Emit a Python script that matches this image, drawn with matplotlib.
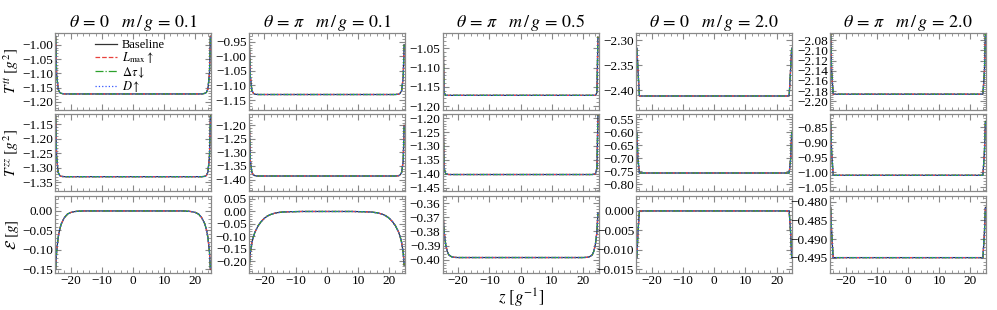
"""
Edge profiles of T^tt, T^zz and energy density for five (theta, m/g) settings.
Four runs (baseline + three refinements) overlap on every panel.
"""

import numpy as np
import matplotlib
matplotlib.use("Agg")
import matplotlib.pyplot as plt
from matplotlib.ticker import MultipleLocator, AutoMinorLocator, ScalarFormatter

plt.rcParams["font.family"] = ["Liberation Serif", "DejaVu Serif"]
plt.rcParams["mathtext.fontset"] = "stix"
plt.rcParams["axes.unicode_minus"] = True

# column titles
TITLES = [
    r"$\theta\, =\, 0 \quad m\,/\,g\, =\, 0.1$",
    r"$\theta\, =\, \pi \quad m\,/\,g\, =\, 0.1$",
    r"$\theta\, =\, \pi \quad m\,/\,g\, =\, 0.5$",
    r"$\theta\, =\, 0 \quad m\,/\,g\, =\, 2.0$",
    r"$\theta\, =\, \pi \quad m\,/\,g\, =\, 2.0$",
]
ROW_LABELS = [r"$T^{tt}\ [g^2]$", r"$T^{zz}\ [g^2]$", r"$\mathcal{E}\ [g]$"]

# left half of the chain (profiles are symmetric about z = 0)
Z_HALF = [-24.8, -24.5, -24.0, -23.5, -23.0, -22.0, -21.0, -20.0, -19.0,
          -18.0, -17.0, -16.0, -14.0, -12.0, -8.0, -4.0, 0.0]

# T^tt per column
TTT_C1 = [-0.97, -1.10, -1.155, -1.167, -1.170, -1.172, -1.172, -1.172, -1.172,
          -1.172, -1.172, -1.172, -1.172, -1.172, -1.172, -1.172, -1.172]
TTT_C2 = [-0.96, -1.07, -1.118, -1.127, -1.130, -1.131, -1.131, -1.131, -1.131,
          -1.131, -1.131, -1.131, -1.131, -1.131, -1.131, -1.131, -1.131]
TTT_C3 = [-1.02, -1.165, -1.172, -1.172, -1.172, -1.172, -1.172, -1.172, -1.172,
          -1.172, -1.172, -1.172, -1.172, -1.172, -1.172, -1.172, -1.172]
TTT_C4 = [-2.316, -2.355, -2.412, -2.412, -2.412, -2.412, -2.412, -2.412, -2.412,
          -2.412, -2.412, -2.412, -2.412, -2.412, -2.412, -2.412, -2.412]
TTT_C5 = [-2.065, -2.14, -2.186, -2.186, -2.186, -2.186, -2.186, -2.186, -2.186,
          -2.186, -2.186, -2.186, -2.186, -2.186, -2.186, -2.186, -2.186]

# T^zz per column
TZZ_C1 = [-1.12, -1.26, -1.315, -1.326, -1.329, -1.330, -1.330, -1.330, -1.330,
          -1.330, -1.330, -1.330, -1.330, -1.330, -1.330, -1.330, -1.330]
TZZ_C2 = [-1.20, -1.33, -1.374, -1.383, -1.386, -1.387, -1.387, -1.387, -1.387,
          -1.387, -1.387, -1.387, -1.387, -1.387, -1.387, -1.387, -1.387]
TZZ_C3 = [-1.19, -1.38, -1.400, -1.402, -1.403, -1.403, -1.403, -1.403, -1.403,
          -1.403, -1.403, -1.403, -1.403, -1.403, -1.403, -1.403, -1.403]
TZZ_C4 = [-0.60, -0.70, -0.757, -0.757, -0.757, -0.757, -0.757, -0.757, -0.757,
          -0.757, -0.757, -0.757, -0.757, -0.757, -0.757, -0.757, -0.757]
TZZ_C5 = [-0.83, -0.93, -1.010, -1.010, -1.010, -1.010, -1.010, -1.010, -1.010,
          -1.010, -1.010, -1.010, -1.010, -1.010, -1.010, -1.010, -1.010]

# energy density per column
E_C1 = [-0.150, -0.105, -0.068, -0.047, -0.033, -0.017, -0.008, -0.004, -0.002,
        -0.001, -0.0005, 0.0, 0.0, 0.0, 0.0, 0.0, 0.0]
E_C2 = [-0.215, -0.165, -0.125, -0.100, -0.082, -0.057, -0.040, -0.027, -0.018,
        -0.012, -0.008, -0.005, -0.002, -0.001, 0.0, 0.0, 0.0]
E_C3 = [-0.367, -0.380, -0.389, -0.394, -0.3965, -0.398, -0.3983, -0.3984, -0.3984,
        -0.3984, -0.3984, -0.3984, -0.3984, -0.3984, -0.3984, -0.3984, -0.3984]
E_C4 = [-0.012, -0.006, 0.0, 0.0, 0.0, 0.0, 0.0, 0.0, 0.0,
        0.0, 0.0, 0.0, 0.0, 0.0, 0.0, 0.0, 0.0]
E_C5 = [-0.4815, -0.488, -0.4949, -0.4949, -0.4949, -0.4949, -0.4949, -0.4949, -0.4949,
        -0.4949, -0.4949, -0.4949, -0.4949, -0.4949, -0.4949, -0.4949, -0.4949]

PROFILES = [
    [TTT_C1, TTT_C2, TTT_C3, TTT_C4, TTT_C5],
    [TZZ_C1, TZZ_C2, TZZ_C3, TZZ_C4, TZZ_C5],
    [E_C1, E_C2, E_C3, E_C4, E_C5],
]

# y ranges and major tick spacing, row by row
YLIMS = [
    [(-1.228, -0.958), (-1.184, -0.919), (-1.21, -1.009), (-2.44, -2.285), (-2.217, -2.065)],
    [(-1.381, -1.115), (-1.444, -1.159), (-1.464, -1.186), (-0.828, -0.531), (-1.064, -0.806)],
    [(-0.159, 0.039), (-0.246, 0.063), (-0.4093, -0.3548), (-0.0159, 0.0039), (-0.499, -0.4784)],
]
YSTEPS = [
    [0.05, 0.05, 0.05, 0.05, 0.02],
    [0.05, 0.05, 0.05, 0.05, 0.05],
    [0.05, 0.05, 0.01, 0.005, 0.005],
]

# runs: label, colour, linestyle
RUNS = [
    ("Baseline", "#333333", "-"),
    (r"$L_{\max}\uparrow$", "#e8413c", "--"),
    (r"$\Delta\tau\downarrow$", "#2ca02c", "-."),
    (r"$D\uparrow$", "#3355ff", ":"),
]


def full(half):
    """Mirror a left-half profile to cover the whole chain."""
    half = np.asarray(half, dtype=float)
    return np.concatenate([half, half[-2::-1]])


z = np.concatenate([np.asarray(Z_HALF), -np.asarray(Z_HALF)[-2::-1]])

fig, axes = plt.subplots(3, 5, figsize=(9.97, 3.10), dpi=100, sharex=True)
fig.subplots_adjust(left=0.0552, right=0.989, top=0.8945, bottom=0.1194,
                    wspace=0.242, hspace=0.055)

for r in range(3):
    for c in range(5):
        ax = axes[r, c]
        y = full(PROFILES[r][c])
        for label, colour, ls in RUNS:
            ax.plot(z, y, color=colour, ls=ls, lw=0.9, label=label)

        ax.set_xlim(-25, 25)
        ax.set_ylim(*YLIMS[r][c])
        ax.xaxis.set_major_locator(MultipleLocator(10))
        ax.xaxis.set_minor_locator(AutoMinorLocator(5))
        ax.yaxis.set_major_locator(MultipleLocator(YSTEPS[r][c]))
        ax.yaxis.set_minor_locator(AutoMinorLocator(5))
        fmt = ScalarFormatter(useOffset=False)
        ax.yaxis.set_major_formatter(fmt)
        ax.tick_params(which="both", direction="in", top=True, right=True,
                       colors="#888888", labelcolor="black", labelsize=9.5, pad=1.5)
        ax.tick_params(which="major", length=4, width=0.8)
        ax.tick_params(which="minor", length=2, width=0.6)
        for sp in ax.spines.values():
            sp.set_color("#888888")
            sp.set_linewidth(0.9)

        if r == 0:
            ax.set_title(TITLES[c], fontsize=13, pad=4)
        if c == 0:
            ax.set_ylabel(ROW_LABELS[r], fontsize=11, labelpad=1)

axes[2, 2].set_xlabel(r"$z\ [g^{-1}]$", fontsize=12, labelpad=0)

axes[0, 0].legend(loc="upper center", frameon=False, fontsize=9,
                  handlelength=1.7, handletextpad=0.4, labelspacing=-0.05,
                  borderaxespad=0.1, bbox_to_anchor=(0.48, 1.0))

fig.savefig("out.png", dpi=100)
plt.close(fig)
